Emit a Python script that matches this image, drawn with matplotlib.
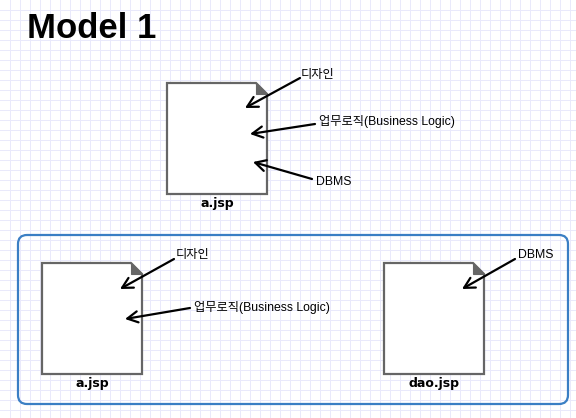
"""Model 1 diagram: one JSP doing everything vs. JSP + DAO split."""

import matplotlib
matplotlib.use("Agg")
import matplotlib.pyplot as plt
from matplotlib.patches import Polygon, FancyBboxPatch

W, H = 576, 418
TEXT_FONT = ["Liberation Sans", "Noto Sans CJK KR", "DejaVu Sans"]

# Documents: name, left, top, right, bottom (pixel units)
doc_names = ["a.jsp", "a.jsp", "dao.jsp"]
doc_boxes = [(167, 83, 267, 194), (42, 263, 142, 374), (384, 263, 484, 374)]

# Callouts: label, label anchor, arrow tail, arrow head
callout_labels = ["디자인", "업무로직(Business Logic)", "DBMS",
                  "디자인", "업무로직(Business Logic)", "DBMS"]
callout_text_pos = [(301, 75), (319, 122), (316, 182),
                    (176, 255), (194, 307), (518, 255)]
callout_tails = [(300, 78), (315, 124), (312, 179),
                 (174, 259), (190, 308), (515, 259)]
callout_heads = [(245, 108), (250, 134), (253, 162),
                 (120, 289), (125, 319), (462, 289)]

FOLD = 11
EDGE = "#666666"


def draw_note(ax, box, name):
    x0, y0, x1, y1 = box
    outline = [(x0, y0), (x1 - FOLD, y0), (x1, y0 + FOLD), (x1, y1), (x0, y1)]
    ax.add_patch(Polygon(outline, closed=True, fc="white", ec=EDGE, lw=1.6,
                         joinstyle="miter", zorder=3))
    fold = [(x1 - FOLD, y0), (x1 - FOLD, y0 + FOLD), (x1, y0 + FOLD)]
    ax.add_patch(Polygon(fold, closed=True, fc=EDGE, ec=EDGE, lw=0.8, zorder=4))
    ax.text((x0 + x1) / 2, y1 + 10, name, ha="center", va="center",
            fontsize=9, fontweight="bold", family="DejaVu Sans", zorder=5)


fig = plt.figure(figsize=(W / 100, H / 100), dpi=100)
ax = fig.add_axes([0, 0, 1, 1])
ax.set_xlim(0, W)
ax.set_ylim(H, 0)
ax.axis("off")

# background grid, 10 px spacing
for gx in range(9, W, 10):
    ax.axvline(gx + 0.5, color="#e9e9fb", lw=0.72, antialiased=False, zorder=0)
for gy in range(9, H, 10):
    ax.axhline(gy + 0.5, color="#e9e9fb", lw=0.72, antialiased=False, zorder=0)

ax.text(27, 29, "Model 1", ha="left", va="center", fontsize=25,
        fontweight="bold", family=TEXT_FONT, zorder=5)

# container for the split version
ax.add_patch(FancyBboxPatch((18, 235), 550, 169,
                            boxstyle="round,pad=0,rounding_size=9",
                            fc="none", ec="#3b7fc4", lw=1.6, zorder=1))

for box, name in zip(doc_boxes, doc_names):
    draw_note(ax, box, name)

for label, tpos, tail, head in zip(callout_labels, callout_text_pos,
                                   callout_tails, callout_heads):
    ax.annotate("", xy=head, xytext=tail,
                arrowprops=dict(arrowstyle="->,head_length=0.75,head_width=0.4",
                                lw=1.6, color="black", shrinkA=0, shrinkB=0),
                zorder=6)
    ax.text(tpos[0], tpos[1], label, ha="left", va="center", fontsize=8.8,
            family=TEXT_FONT, zorder=6)

fig.savefig("out.png", dpi=100)
